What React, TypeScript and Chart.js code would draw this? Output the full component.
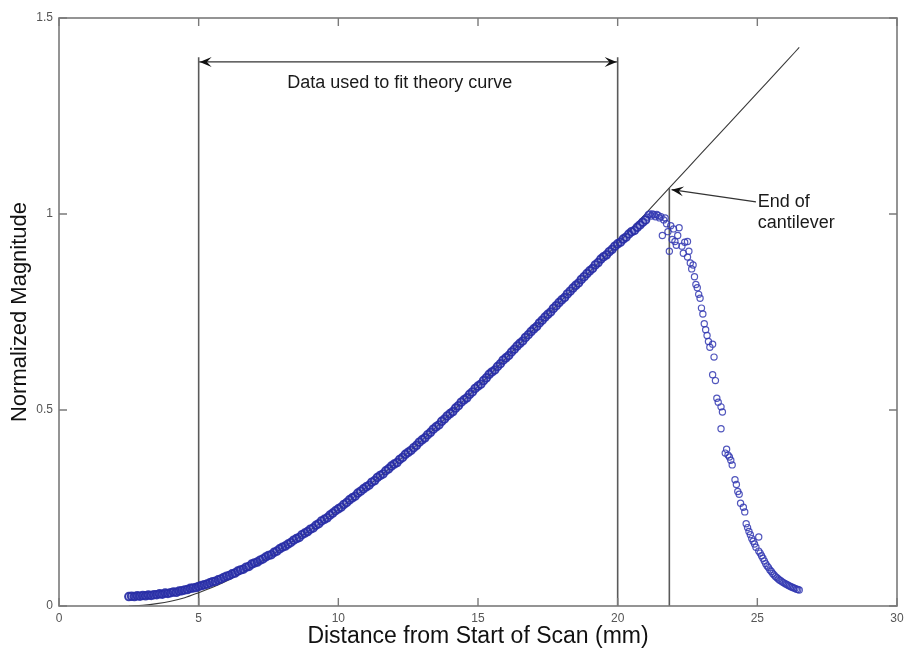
import React, { useEffect, useRef } from 'react';
import { Chart, registerables } from 'chart.js';

Chart.register(...registerables);

// ---- Data ----
const X_RANGE = [0, 30];
const Y_RANGE = [0, 1.5];
const X_STEP = 5;
const Y_STEP = 0.5;

// measured scan (rising part, dense)
const scanRising: [number, number][] = [
  [2.5,0.024],[2.6,0.025],[2.7,0.024],[2.8,0.026],[2.9,0.025],[3.0,0.027],[3.1,0.026],[3.2,0.028],[3.3,0.027],[3.4,0.029],
  [3.5,0.029],[3.6,0.031],[3.7,0.030],[3.8,0.033],[3.9,0.032],[4.0,0.034],[4.1,0.036],[4.2,0.035],[4.3,0.038],[4.4,0.039],
  [4.5,0.041],[4.6,0.042],[4.7,0.045],[4.8,0.046],[4.9,0.047],[5.0,0.050],[5.1,0.052],[5.2,0.054],[5.3,0.056],[5.4,0.059],
  [5.5,0.062],[5.6,0.063],[5.7,0.067],[5.8,0.069],[5.9,0.073],[6.0,0.076],[6.1,0.078],[6.2,0.082],[6.3,0.084],[6.4,0.089],
  [6.5,0.092],[6.6,0.094],[6.7,0.099],[6.8,0.101],[6.9,0.107],[7.0,0.110],[7.1,0.112],[7.2,0.117],[7.3,0.120],[7.4,0.125],
  [7.5,0.129],[7.6,0.131],[7.7,0.137],[7.8,0.140],[7.9,0.146],[8.0,0.150],[8.1,0.153],[8.2,0.158],[8.3,0.162],[8.4,0.168],
  [8.5,0.172],[8.6,0.175],[8.7,0.182],[8.8,0.186],[8.9,0.190],[9.0,0.196],[9.1,0.199],[9.2,0.206],[9.3,0.210],[9.4,0.217],
  [9.5,0.221],[9.6,0.225],[9.7,0.232],[9.8,0.237],[9.9,0.243],[10.0,0.248],[10.1,0.252],[10.2,0.259],[10.3,0.264],[10.4,0.271],
  [10.5,0.276],[10.6,0.280],[10.7,0.288],[10.8,0.293],[10.9,0.299],[11.0,0.304],[11.1,0.308],[11.2,0.316],[11.3,0.320],[11.4,0.328],
  [11.5,0.333],[11.6,0.337],[11.7,0.345],[11.8,0.350],[11.9,0.357],[12.0,0.362],[12.1,0.366],[12.2,0.374],[12.3,0.379],[12.4,0.387],
  [12.5,0.392],[12.6,0.397],[12.7,0.404],[12.8,0.410],[12.9,0.418],[13.0,0.424],[13.1,0.429],[13.2,0.437],[13.3,0.443],[13.4,0.451],
  [13.5,0.457],[13.6,0.462],[13.7,0.471],[13.8,0.477],[13.9,0.485],[14.0,0.491],[14.1,0.496],[14.2,0.505],[14.3,0.511],[14.4,0.520],
  [14.5,0.526],[14.6,0.531],[14.7,0.540],[14.8,0.546],[14.9,0.555],[15.0,0.561],[15.1,0.566],[15.2,0.575],[15.3,0.582],[15.4,0.591],
  [15.5,0.597],[15.6,0.602],[15.7,0.611],[15.8,0.618],[15.9,0.627],[16.0,0.633],[16.1,0.639],[16.2,0.648],[16.3,0.655],[16.4,0.663],
  [16.5,0.670],[16.6,0.676],[16.7,0.685],[16.8,0.692],[16.9,0.700],[17.0,0.707],[17.1,0.713],[17.2,0.722],[17.3,0.729],[17.4,0.737],
  [17.5,0.744],[17.6,0.750],[17.7,0.759],[17.8,0.766],[17.9,0.774],[18.0,0.781],[18.1,0.787],[18.2,0.796],[18.3,0.803],[18.4,0.811],
  [18.5,0.818],[18.6,0.824],[18.7,0.833],[18.8,0.840],[18.9,0.848],[19.0,0.855],[19.1,0.861],[19.2,0.870],[19.3,0.876],[19.4,0.885],
  [19.5,0.891],[19.6,0.896],[19.7,0.904],[19.8,0.910],[19.9,0.918],[20.0,0.924],[20.1,0.928],[20.2,0.936],[20.3,0.941],[20.4,0.949],
  [20.5,0.955],[20.6,0.958],[20.7,0.966],[20.8,0.972],[20.9,0.979],[21.0,0.985],
];

// measured scan (peak and fall-off beyond the cantilever end)
const scanFalling: [number, number][] = [
  [21.05,0.992],[21.1,0.998],[21.15,1.0],[21.2,0.995],[21.25,1.0],[21.3,0.998],[21.35,0.993],[21.4,0.999],[21.45,0.996],[21.5,0.99],
  [21.55,0.993],[21.6,0.945],[21.65,0.985],[21.7,0.99],[21.75,0.975],[21.8,0.955],[21.85,0.905],[21.9,0.97],[21.95,0.935],[22.0,0.962],
  [22.05,0.93],[22.1,0.92],[22.15,0.945],[22.2,0.965],[22.3,0.918],[22.35,0.9],[22.4,0.928],[22.5,0.93],[22.5,0.89],[22.55,0.905],
  [22.6,0.875],[22.65,0.86],[22.7,0.87],[22.75,0.84],[22.8,0.82],[22.85,0.812],[22.9,0.795],[22.95,0.785],[23.0,0.76],[23.05,0.745],
  [23.1,0.72],[23.15,0.705],[23.2,0.69],[23.25,0.675],[23.3,0.66],[23.4,0.668],[23.45,0.635],[23.4,0.59],[23.5,0.575],[23.55,0.53],
  [23.6,0.52],[23.7,0.508],[23.75,0.495],[23.7,0.452],[23.85,0.39],[23.9,0.4],[23.95,0.385],[24.0,0.38],[24.05,0.372],[24.1,0.36],
  [24.2,0.322],[24.25,0.31],[24.3,0.292],[24.35,0.285],[24.4,0.262],[24.5,0.252],[24.55,0.24],[24.6,0.21],[24.65,0.2],[24.7,0.19],
  [24.75,0.182],[24.8,0.172],[24.85,0.165],[24.9,0.158],[24.95,0.15],[25.05,0.176],[25.05,0.14],[25.1,0.135],[25.15,0.128],[25.2,0.122],
  [25.25,0.115],[25.3,0.108],[25.35,0.102],[25.4,0.098],[25.45,0.092],[25.5,0.088],[25.55,0.083],[25.6,0.079],[25.65,0.075],[25.7,0.072],
  [25.75,0.069],[25.8,0.066],[25.85,0.064],[25.9,0.061],[25.95,0.059],[26.0,0.057],[26.05,0.055],[26.1,0.053],[26.15,0.051],[26.2,0.049],
  [26.25,0.048],[26.3,0.046],[26.35,0.045],[26.4,0.043],[26.45,0.042],[26.5,0.041],
];

// theory curve
const theoryX = [2.5, 3, 3.5, 4, 4.5, 5, 5.5, 6, 6.5, 7, 7.5, 8, 9, 10, 11, 12, 13, 14, 15, 16, 17, 18, 19, 20, 21, 22, 23, 24, 25, 26, 26.5];
const theoryY = [0.0, 0.002, 0.006, 0.012, 0.021, 0.034, 0.048, 0.064, 0.082, 0.103, 0.125, 0.148, 0.194, 0.246, 0.303, 0.361, 0.423, 0.49, 0.56, 0.632, 0.706, 0.78, 0.853, 0.924, 1.001, 1.078, 1.155, 1.232, 1.309, 1.386, 1.425];

// annotations
const fitRangeX = [5, 20];
const fitLineTopY = 1.4;
const fitArrowY = 1.388;
const fitLabel = 'Data used to fit theory curve';
const fitLabelPos = [12.2, 1.334];
const cantileverEndX = 21.85;
const cantileverTopY = 1.066;
const pointerFrom = [24.95, 1.031];
const pointerTo = [21.93, 1.062];
const endLabel = ['End of', 'cantilever'];
const endLabelPos = [25.3, 1.0];

const X_TITLE = 'Distance from Start of Scan (mm)';
const Y_TITLE = 'Normalized Magnitude';

const FONT = 'Arial, "Liberation Sans", Helvetica, sans-serif';

function arrowHead(ctx: CanvasRenderingContext2D, tx: number, ty: number, ang: number, len = 12, half = 5) {
  const ca = Math.cos(ang), sa = Math.sin(ang);
  const pt = (a: number, b: number) => [tx - a * ca + b * sa, ty - a * sa - b * ca];
  const p1 = pt(len, half);
  const p2 = pt(len * 0.6, 0);
  const p3 = pt(len, -half);
  ctx.beginPath();
  ctx.moveTo(tx, ty);
  ctx.lineTo(p1[0], p1[1]);
  ctx.lineTo(p2[0], p2[1]);
  ctx.lineTo(p3[0], p3[1]);
  ctx.closePath();
  ctx.fill();
}

const decorPlugin = {
  id: 'decor',
  afterDatasetsDraw(chart: any) {
    const { ctx, chartArea: a, scales } = chart;
    const xs = scales.x, ys = scales.y;
    ctx.save();
    // box
    ctx.strokeStyle = '#7a7a7a';
    ctx.lineWidth = 1.6;
    ctx.strokeRect(a.left, a.top, a.right - a.left, a.bottom - a.top);
    // inward ticks
    ctx.lineWidth = 1.4;
    ctx.beginPath();
    xs.ticks.forEach((t: any) => {
      const px = xs.getPixelForValue(t.value);
      ctx.moveTo(px, a.bottom); ctx.lineTo(px, a.bottom - 8);
      ctx.moveTo(px, a.top); ctx.lineTo(px, a.top + 8);
    });
    ys.ticks.forEach((t: any) => {
      const py = ys.getPixelForValue(t.value);
      ctx.moveTo(a.left, py); ctx.lineTo(a.left + 8, py);
      ctx.moveTo(a.right, py); ctx.lineTo(a.right - 8, py);
    });
    ctx.stroke();

    // arrow heads for fit range
    ctx.fillStyle = '#111';
    const ay = ys.getPixelForValue(fitArrowY);
    const x1 = xs.getPixelForValue(fitRangeX[0]);
    const x2 = xs.getPixelForValue(fitRangeX[1]);
    arrowHead(ctx, x1 + 1, ay, Math.PI);
    arrowHead(ctx, x2 - 1, ay, 0);
    // pointer arrow head
    const fx = xs.getPixelForValue(pointerFrom[0]), fy = ys.getPixelForValue(pointerFrom[1]);
    const tx = xs.getPixelForValue(pointerTo[0]), ty = ys.getPixelForValue(pointerTo[1]);
    arrowHead(ctx, tx, ty, Math.atan2(ty - fy, tx - fx));

    // annotation labels
    ctx.fillStyle = '#1a1a1a';
    ctx.font = `18px ${FONT}`;
    ctx.textAlign = 'center';
    ctx.textBaseline = 'middle';
    ctx.fillText(fitLabel, xs.getPixelForValue(fitLabelPos[0]), ys.getPixelForValue(fitLabelPos[1]));
    ctx.textAlign = 'left';
    const ex = xs.getPixelForValue(endLabelPos[0]);
    const ey = ys.getPixelForValue(endLabelPos[1]);
    ctx.fillText(endLabel[0], ex - 8, ey - 12);
    ctx.fillText(endLabel[1], ex - 8, ey + 9);

    // axis titles
    ctx.fillStyle = '#111';
    ctx.font = `23px ${FONT}`;
    ctx.textAlign = 'center';
    ctx.textBaseline = 'middle';
    ctx.fillText(X_TITLE, (a.left + a.right) / 2, a.bottom + 31);
    ctx.save();
    ctx.translate(20, (a.top + a.bottom) / 2);
    ctx.rotate(-Math.PI / 2);
    ctx.font = `22px ${FONT}`;
    ctx.fillText(Y_TITLE, 0, 0);
    ctx.restore();
    ctx.restore();
  },
};

export default function App() {
  const ref = useRef<HTMLCanvasElement | null>(null);
  useEffect(() => {
    document.body.style.margin = '0';
    const canvas = ref.current;
    if (!canvas) return;
    const lineDs = (data: { x: number; y: number }[], color: string, width: number, order = 2) => ({
      type: 'line' as const,
      data,
      borderColor: color,
      borderWidth: width,
      pointRadius: 0,
      fill: false,
      tension: 0,
      order,
    });
    const chart = new Chart(canvas, {
      type: 'scatter',
      data: {
        datasets: [
          {
            type: 'scatter',
            data: scanRising.map(([x, y]) => ({ x, y })),
            pointStyle: 'circle',
            pointRadius: 3.8,
            borderWidth: 1.9,
            borderColor: 'rgba(40,46,166,0.92)',
            backgroundColor: 'rgba(60,66,180,0.3)',
            order: 0,
          } as any,
          {
            type: 'scatter',
            data: scanFalling.map(([x, y]) => ({ x, y })),
            pointStyle: 'circle',
            pointRadius: 3.1,
            borderWidth: 1.2,
            borderColor: 'rgba(50,56,178,0.85)',
            backgroundColor: 'rgba(0,0,0,0)',
            order: 0,
          } as any,
          {
            ...lineDs(theoryX.map((x, i) => ({ x, y: theoryY[i] })), '#3a3a3a', 1.1, 1),
            cubicInterpolationMode: 'monotone',
          } as any,
          lineDs([{ x: fitRangeX[0], y: 0 }, { x: fitRangeX[0], y: fitLineTopY }], '#5a5a5a', 1.6),
          lineDs([{ x: fitRangeX[1], y: 0 }, { x: fitRangeX[1], y: fitLineTopY }], '#5a5a5a', 1.6),
          lineDs([{ x: fitRangeX[0], y: fitArrowY }, { x: fitRangeX[1], y: fitArrowY }], '#333', 1.4),
          lineDs([{ x: cantileverEndX, y: 0 }, { x: cantileverEndX, y: cantileverTopY }], '#5a5a5a', 1.6),
          lineDs([{ x: pointerFrom[0], y: pointerFrom[1] }, { x: pointerTo[0], y: pointerTo[1] }], '#333', 1.2),
        ],
      },
      options: {
        responsive: false,
        animation: false,
        events: [],
        layout: { padding: { left: 0, right: 8, top: 18, bottom: 0 } },
        plugins: { legend: { display: false }, tooltip: { enabled: false } },
        scales: {
          x: {
            type: 'linear',
            min: X_RANGE[0],
            max: X_RANGE[1],
            grid: { display: false, drawTicks: false },
            border: { display: false },
            ticks: { stepSize: X_STEP, color: '#555', padding: 5, font: { family: FONT, size: 12 } },
            afterFit: (s: any) => { s.height = 45; s.paddingLeft = 0; s.paddingRight = 0; },
          },
          y: {
            type: 'linear',
            min: Y_RANGE[0],
            max: Y_RANGE[1],
            grid: { display: false, drawTicks: false },
            border: { display: false },
            ticks: {
              stepSize: Y_STEP,
              color: '#555',
              padding: 6,
              font: { family: FONT, size: 12 },
              callback: (v: any) => String(Number(v)),
            },
            afterFit: (s: any) => { s.width = 59; s.paddingTop = 0; s.paddingBottom = 0; },
          },
        },
      } as any,
      plugins: [decorPlugin],
    });
    return () => chart.destroy();
  }, []);
  return (
    <div style={{ position: 'fixed', left: 0, top: 0, width: 905, height: 651, background: '#fff' }}>
      <canvas ref={ref} width={905} height={651} />
    </div>
  );
}
